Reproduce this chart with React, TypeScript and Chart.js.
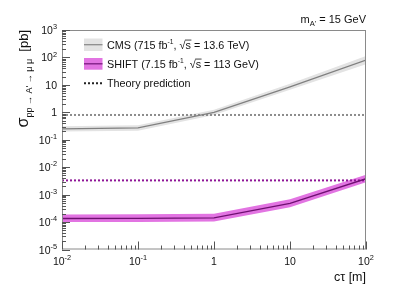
import React, { useEffect, useRef } from "react";
import { Chart, registerables } from "chart.js";

Chart.register(...registerables);

const ctau = [0.01, 0.1, 1, 10, 100];
const cmsLimit = [0.25, 0.27, 1.0, 8.5, 80];
const cmsUp = [0.31, 0.335, 1.25, 11, 112];
const cmsDown = [0.2, 0.215, 0.8, 6.6, 57];
const shiftLimit = [1.35e-4, 1.37e-4, 1.42e-4, 4.8e-4, 3.8e-3];
const shiftUp = [1.9e-4, 1.93e-4, 2.0e-4, 6.8e-4, 5.3e-3];
const shiftDown = [1.0e-4, 1.01e-4, 1.04e-4, 3.45e-4, 2.8e-3];
const theoryCms = 0.8;
const theoryShift = 3.3e-3;
const xTickExps = [-2, -1, 0, 1, 2];
const yTickExps = [-5, -4, -3, -2, -1, 0, 1, 2, 3];

const FONT = '"Liberation Sans", Arial, Helvetica, sans-serif';

type Seg = { t: string; size: number; dy?: number; over?: boolean };

function segWidth(ctx: CanvasRenderingContext2D, segs: Seg[]) {
  let w = 0;
  for (const s of segs) {
    ctx.font = `${s.size}px ${FONT}`;
    w += ctx.measureText(s.t).width;
  }
  return w;
}

function drawRich(
  ctx: CanvasRenderingContext2D,
  segs: Seg[],
  x: number,
  y: number,
  align: "left" | "right" | "center",
  color: string
) {
  const w = segWidth(ctx, segs);
  let cx = align === "left" ? x : align === "right" ? x - w : x - w / 2;
  ctx.save();
  ctx.fillStyle = color;
  ctx.strokeStyle = color;
  ctx.textAlign = "left";
  ctx.textBaseline = "alphabetic";
  for (const s of segs) {
    ctx.font = `${s.size}px ${FONT}`;
    const sw = ctx.measureText(s.t).width;
    ctx.fillText(s.t, cx, y + (s.dy || 0));
    if (s.over) {
      ctx.lineWidth = 0.8;
      ctx.beginPath();
      const oy = y + (s.dy || 0) - s.size * 0.78;
      ctx.moveTo(cx - 0.5, oy);
      ctx.lineTo(cx + sw + 0.5, oy);
      ctx.stroke();
    }
    cx += sw;
  }
  ctx.restore();
}

function powLabel(k: number, size: number): Seg[] {
  if (k === 0) return [{ t: "1", size }];
  if (k === 1) return [{ t: "10", size }];
  return [
    { t: "10", size },
    { t: String(k), size: size * 0.7, dy: -size * 0.45 },
  ];
}

const decorPlugin = {
  id: "decor",
  afterDraw(chart: any) {
    const ctx: CanvasRenderingContext2D = chart.ctx;
    const { left, right, top, bottom } = chart.chartArea;
    const xs = chart.scales.x;
    const ys = chart.scales.y;
    ctx.save();
    // frame
    ctx.strokeStyle = "#8a8a8a";
    ctx.lineWidth = 1;
    ctx.strokeRect(left + 0.5, top + 0.5, right - left - 1, bottom - top - 1);
    // ticks
    ctx.strokeStyle = "#555";
    ctx.lineWidth = 1;
    ctx.beginPath();
    for (let e = -2; e <= 2; e++) {
      const xp = Math.round(xs.getPixelForValue(Math.pow(10, e))) + 0.5;
      ctx.moveTo(xp, bottom);
      ctx.lineTo(xp, bottom - 8);
      if (e < 2) {
        for (let m = 2; m <= 9; m++) {
          const xm = Math.round(xs.getPixelForValue(m * Math.pow(10, e))) + 0.5;
          ctx.moveTo(xm, bottom);
          ctx.lineTo(xm, bottom - 4);
        }
      }
    }
    for (let e = -5; e <= 3; e++) {
      const yp = Math.round(ys.getPixelForValue(Math.pow(10, e))) + 0.5;
      ctx.moveTo(left, yp);
      ctx.lineTo(left + 8, yp);
      if (e < 3) {
        for (let m = 2; m <= 9; m++) {
          const ym = Math.round(ys.getPixelForValue(m * Math.pow(10, e))) + 0.5;
          ctx.moveTo(left, ym);
          ctx.lineTo(left + 4, ym);
        }
      }
    }
    ctx.stroke();
    // tick labels
    for (const k of xTickExps) {
      const xp = xs.getPixelForValue(Math.pow(10, k));
      drawRich(ctx, powLabel(k, 10.5), xp, 265, "center", "#111");
    }
    for (const k of yTickExps) {
      const yp = ys.getPixelForValue(Math.pow(10, k));
      drawRich(ctx, powLabel(k, 10.5), 57, yp + 4, "right", "#111");
    }
    // x title
    drawRich(ctx, [{ t: "c\u03c4 [m]", size: 12.5 }], right, 281, "right", "#111");
    // top-right label
    drawRich(
      ctx,
      [
        { t: "m", size: 11 },
        { t: "A'", size: 7.5, dy: 3 },
        { t: " = 15 GeV", size: 11 },
      ],
      right,
      23,
      "right",
      "#111"
    );
    // y title (rotated)
    ctx.save();
    ctx.translate(28, top);
    ctx.rotate(-Math.PI / 2);
    drawRich(
      ctx,
      [
        { t: "\u03c3", size: 16 },
        { t: "pp \u2192 A' \u2192 \u03bc \u03bc", size: 9, dy: 4 },
        { t: "  [pb]", size: 13 },
      ],
      0,
      0,
      "right",
      "#111"
    );
    ctx.restore();

    // legend
    const lx = 84;
    const lw = 18.5;
    ctx.fillStyle = "#e3e3e3";
    ctx.fillRect(lx, 38.5, lw, 12.5);
    ctx.strokeStyle = "#8c8c8c";
    ctx.lineWidth = 1.3;
    ctx.beginPath();
    ctx.moveTo(lx, 44.7);
    ctx.lineTo(lx + lw, 44.7);
    ctx.stroke();
    ctx.fillStyle = "#e274e2";
    ctx.fillRect(lx, 58, lw, 11.7);
    ctx.strokeStyle = "#7a1a80";
    ctx.beginPath();
    ctx.moveTo(lx, 63.8);
    ctx.lineTo(lx + lw, 63.8);
    ctx.stroke();
    ctx.strokeStyle = "#222";
    ctx.lineWidth = 2;
    ctx.setLineDash([2, 2]);
    ctx.beginPath();
    ctx.moveTo(lx, 83.3);
    ctx.lineTo(lx + lw, 83.3);
    ctx.stroke();
    ctx.setLineDash([]);
    const fs = 10.8;
    const tx = 107;
    drawRich(
      ctx,
      [
        { t: "CMS (715 fb", size: fs },
        { t: "-1", size: fs * 0.62, dy: -fs * 0.45 },
        { t: ", \u221a", size: fs },
        { t: "s", size: fs, over: true },
        { t: " = 13.6 TeV)", size: fs },
      ],
      tx,
      48.5,
      "left",
      "#111"
    );
    drawRich(
      ctx,
      [
        { t: "SHIFT (7.15 fb", size: fs },
        { t: "-1", size: fs * 0.62, dy: -fs * 0.45 },
        { t: ", \u221a", size: fs },
        { t: "s", size: fs, over: true },
        { t: " = 113 GeV)", size: fs },
      ],
      tx,
      67.5,
      "left",
      "#111"
    );
    drawRich(ctx, [{ t: "Theory prediction", size: fs }], tx, 87, "left", "#111");
    ctx.restore();
  },
};

function pts(ys: number[]) {
  return ctau.map((x, i) => ({ x, y: ys[i] }));
}

export default function App() {
  const ref = useRef<HTMLCanvasElement | null>(null);
  useEffect(() => {
    document.body.style.margin = "0";
    const canvas = ref.current;
    if (!canvas) return;
    const flat = (v: number) => [
      { x: ctau[0], y: v },
      { x: ctau[ctau.length - 1], y: v },
    ];
    const chart = new Chart(canvas, {
      type: "line",
      data: {
        datasets: [
          {
            data: pts(cmsUp),
            borderWidth: 0,
            backgroundColor: "#e3e3e3",
            fill: "+1",
            pointRadius: 0,
            order: 10,
          },
          {
            data: pts(cmsDown),
            borderWidth: 0,
            fill: false,
            pointRadius: 0,
            order: 10,
          },
          {
            data: pts(shiftUp),
            borderWidth: 0,
            backgroundColor: "#e274e2",
            fill: "+1",
            pointRadius: 0,
            order: 9,
          },
          {
            data: pts(shiftDown),
            borderWidth: 0,
            fill: false,
            pointRadius: 0,
            order: 9,
          },
          {
            data: flat(theoryCms),
            borderColor: "#8c8c8c",
            borderWidth: 2,
            borderDash: [2, 2],
            fill: false,
            pointRadius: 0,
            order: 5,
          },
          {
            data: flat(theoryShift),
            borderColor: "#8e1496",
            borderWidth: 2,
            borderDash: [2, 2],
            fill: false,
            pointRadius: 0,
            order: 5,
          },
          {
            data: pts(cmsLimit),
            borderColor: "#808080",
            borderWidth: 1.3,
            fill: false,
            pointRadius: 0,
            order: 1,
          },
          {
            data: pts(shiftLimit),
            borderColor: "#6e1070",
            borderWidth: 1.3,
            fill: false,
            pointRadius: 0,
            order: 1,
          },
        ],
      },
      options: {
        animation: false,
        responsive: false,
        devicePixelRatio: 1,
        parsing: true,
        layout: { padding: { left: 62, right: 41, top: 30, bottom: 44.5 } },
        elements: { line: { tension: 0 } },
        scales: {
          x: { type: "logarithmic", min: 0.01, max: 100, display: false },
          y: { type: "logarithmic", min: 1e-5, max: 1e3, display: false },
        },
        plugins: {
          legend: { display: false },
          tooltip: { enabled: false },
          filler: { propagate: false },
        },
      },
      plugins: [decorPlugin],
    } as any);
    return () => chart.destroy();
  }, []);
  return (
    <div style={{ width: 407, height: 294 }}>
      <canvas ref={ref} width={407} height={294} style={{ display: "block" }} />
    </div>
  );
}
